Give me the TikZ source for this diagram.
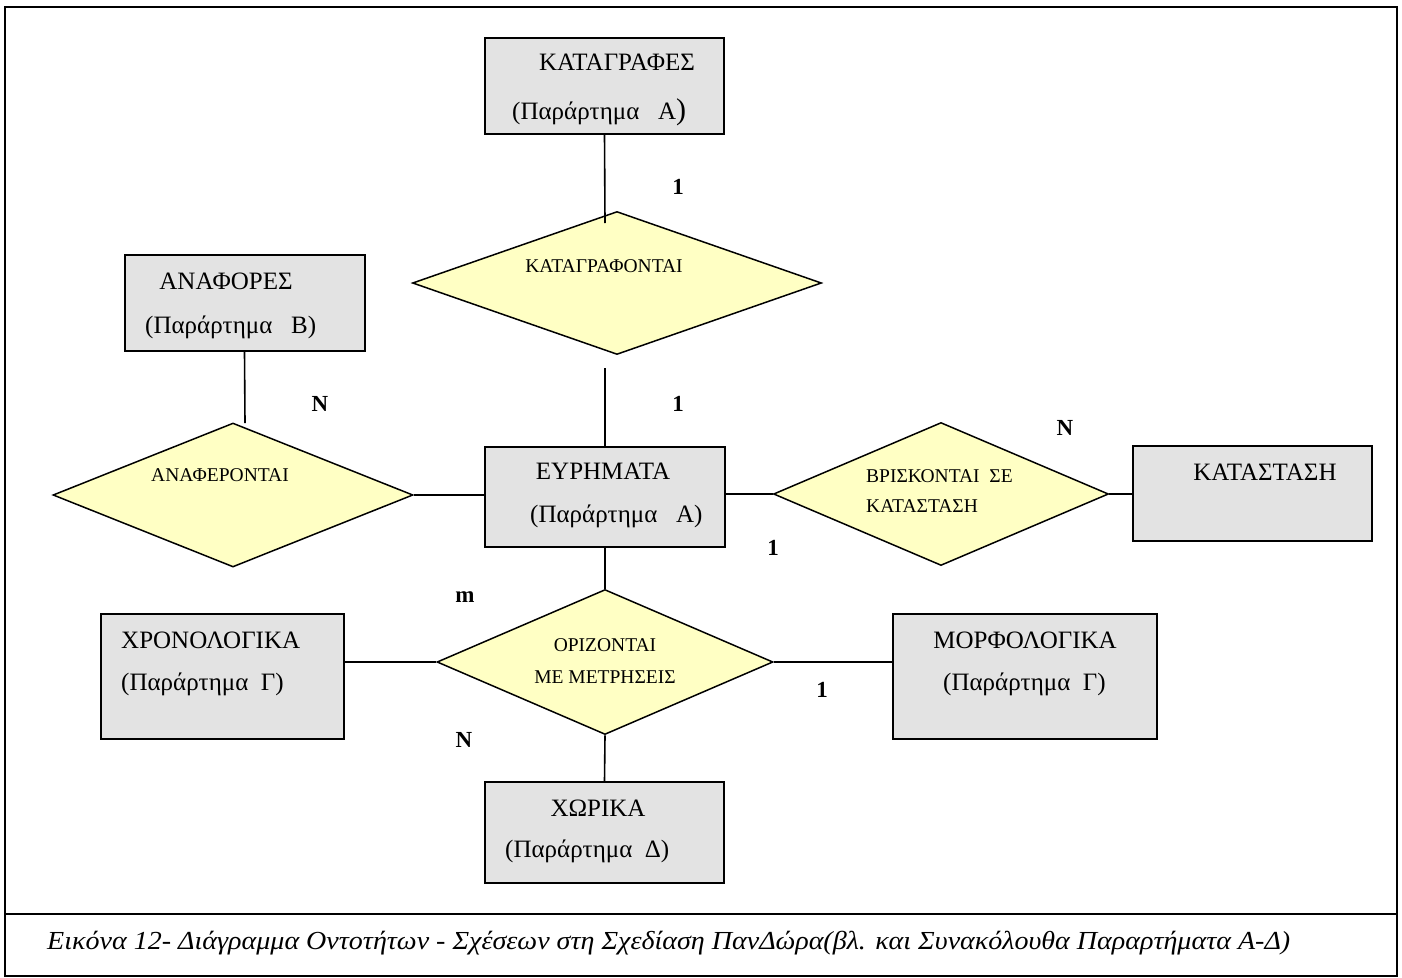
\documentclass[tikz,border=0pt]{standalone}
\usepackage{fontspec}
\usepackage{graphicx}
\setmainfont{Liberation Serif}
\usetikzlibrary{shapes.geometric}
\definecolor{boxgray}{RGB}{227,227,227}
\definecolor{relyellow}{RGB}{255,255,196}
\begin{document}
\begin{tikzpicture}[x=1pt,y=-1pt,
  entity/.style={draw=black,line width=2pt,fill=boxgray,inner sep=0pt},
  relation/.style={diamond,draw=black,line width=1.5pt,fill=relyellow,inner sep=0pt},
  etext/.style={inner sep=0pt,font=\fontsize{25}{29}\selectfont},
  rtext/.style={inner sep=0pt,font=\fontsize{19.5}{23}\selectfont},
  card/.style={inner sep=0pt,font=\fontsize{23}{27}\selectfont\bfseries},
  link/.style={line width=1.6pt}]
\useasboundingbox (0,0) rectangle (1402,977);
\fill[white] (0,0) rectangle (1402,977);

% frame and caption strip
\draw[line width=2pt] (5,7) rectangle (1397,976);
\draw[line width=2pt] (5,914) -- (1397,914);

% entities
\node[entity,minimum width=239pt,minimum height=96pt] (kat) at (604.5,86) {};
\node[entity,minimum width=240pt,minimum height=96pt] (ana) at (244.5,303) {};
\node[entity,minimum width=240pt,minimum height=100pt] (eur) at (605,497) {};
\node[entity,minimum width=239pt,minimum height=95pt] (kst) at (1252.5,493.5) {};
\node[entity,minimum width=243pt,minimum height=125pt] (xron) at (222.5,676.5) {};
\node[entity,minimum width=264pt,minimum height=125pt] (morf) at (1025,676.5) {};
\node[entity,minimum width=239pt,minimum height=101pt] (xor) at (604.5,832.5) {};

% relationships
\node[relation,minimum width=409pt,minimum height=143pt] (rkat) at (617,283) {};
\node[relation,minimum width=360pt,minimum height=144pt] (rana) at (233,495) {};
\node[relation,minimum width=335pt,minimum height=143pt] (rbr) at (941,494) {};
\node[relation,minimum width=336pt,minimum height=145pt] (ror) at (605,662) {};

% loose ends of the vertical links
\coordinate (katend) at (605,223);
\coordinate (katstart) at (605,368);
\coordinate (anaend) at (245,423);

% links
\draw[link] (kat.south) -- (katend);
\draw[link] (katstart) -- (eur.north);
\draw[link] (ana.south) -- (anaend);
\draw[link] (rana.east) -- (rana.east -| eur.west);
\draw[link] (eur.east |- rbr.west) -- (rbr.west);
\draw[link] (rbr.east) -- (rbr.east -| kst.west);
\draw[link] (eur.south) -- (ror.north);
\draw[link] (ror.west) -- (ror.west -| xron.east);
\draw[link] (ror.east) -- (ror.east -| morf.west);
\draw[link] (ror.south) -- (xor.north);

% entity texts
\node[etext] (katt1) at (617,62) {ΚΑΤΑΓΡΑΦΕΣ};
\node[etext,anchor=west] (katt2) at (512,112) {(Παράρτημα\ \ \ Α{\fontsize{30}{30}\selectfont)}};
\node[etext] (anat1) at (226,281) {ΑΝΑΦΟΡΕΣ};
\node[etext,anchor=west] (anat2) at (145,327) {(Παράρτημα\ \ \ Β)};
\node[etext] (eurt1) at (603,471) {ΕΥΡΗΜΑΤΑ};
\node[etext,anchor=west] (eurt2) at (530,516) {(Παράρτημα\ \ \ Α)};
\node[etext] (kstt1) at (1265,472) {ΚΑΤΑΣΤΑΣΗ};
\node[etext,anchor=west] (xront1) at (121,640) {ΧΡΟΝΟΛΟΓΙΚΑ};
\node[etext,anchor=west] (xront2) at (121,684) {(Παράρτημα\ \ Γ)};
\node[etext] (morft1) at (1025,640) {ΜΟΡΦΟΛΟΓΙΚΑ};
\node[etext,anchor=west] (morft2) at (943,684) {(Παράρτημα\ \ Γ)};
\node[etext] (xort1) at (598,808) {ΧΩΡΙΚΑ};
\node[etext,anchor=west] (xort2) at (505,851) {(Παράρτημα\ \ Δ)};

% relationship texts
\node[rtext] (rkatt) at (604,266) {ΚΑΤΑΓΡΑΦΟΝΤΑΙ};
\node[rtext] (ranat) at (220,475) {ΑΝΑΦΕΡΟΝΤΑΙ};
\node[rtext,anchor=west] (rbrt1) at (866,476) {ΒΡΙΣΚΟΝΤΑΙ\ \ ΣΕ};
\node[rtext,anchor=west] (rbrt2) at (866,506) {ΚΑΤΑΣΤΑΣΗ};
\node[rtext] (rort1) at (605,645) {ΟΡΙΖΟΝΤΑΙ};
\node[rtext] (rort2) at (605,677) {ΜΕ ΜΕΤΡΗΣΕΙΣ};

% cardinalities
\node[card] (c1) at (678,187) {1};
\node[card] (c2) at (678,404) {1};
\node[card] (c3) at (320,404) {N};
\node[card] (c4) at (1065,428) {N};
\node[card] (c5) at (773,548) {1};
\node[card] (c6) at (465,597) {m};
\node[card] (c7) at (464,740) {N};
\node[card] (c8) at (822,690) {1};

% caption
\node[inner sep=0pt,anchor=west,font=\fontsize{26}{30}\selectfont\itshape] (cap) at (47,943)
  {\resizebox{1243pt}{\height}{Εικόνα 12- Διάγραμμα Οντοτήτων - Σχέσεων στη Σχεδίαση ΠανΔώρα(βλ. και Συνακόλουθα Παραρτήματα Α-Δ)}};
\end{tikzpicture}
\end{document}
